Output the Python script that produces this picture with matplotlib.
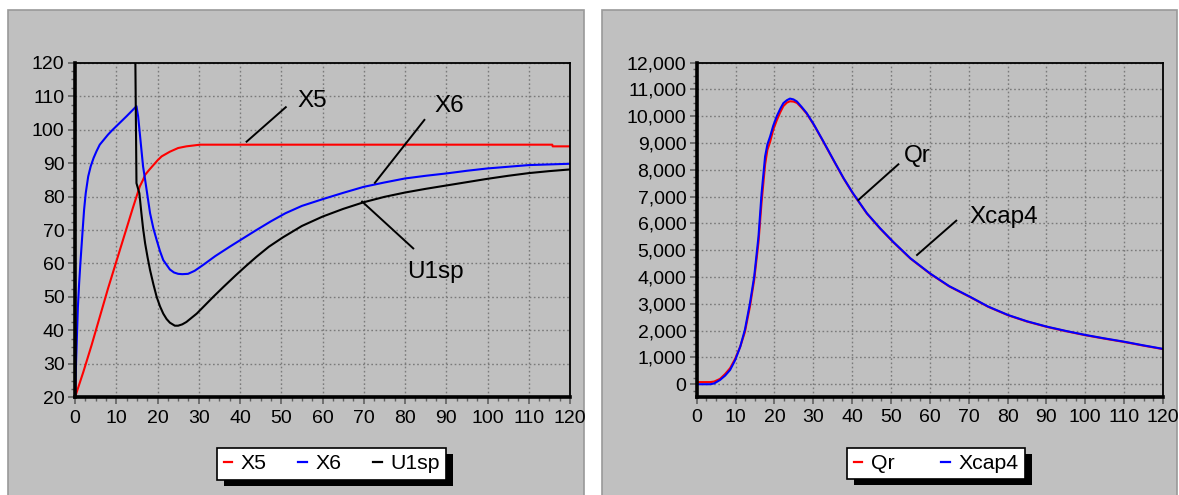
import matplotlib
matplotlib.use("Agg")
import matplotlib.pyplot as plt
from matplotlib.patches import Rectangle
from matplotlib.lines import Line2D
from matplotlib.transforms import IdentityTransform
from matplotlib.ticker import MultipleLocator, FuncFormatter

plt.rcParams['font.family'] = ['Liberation Sans', 'DejaVu Sans']

# ---------------- data: left chart ----------------
t_x5 = [0, 2, 4, 6, 8, 10, 12, 14, 15.7, 16.5, 17, 18, 19, 20, 21, 23, 25, 27, 29,
        30.3, 60, 90, 115.7, 115.8, 120]
x5 = [20, 27.5, 35.5, 44, 52.5, 60.5, 68.5, 76.5, 83, 85, 86.5, 88, 89.4, 90.8, 92,
      93.4, 94.5, 95, 95.3, 95.5, 95.5, 95.5, 95.5, 95.0, 95.0]

t_x6 = [0, 0.3, 0.7, 1, 1.3, 1.8, 2.2, 2.6, 3.2, 3.8, 4.5, 5.2, 6, 7, 8, 9, 10, 11,
        12.5, 13.7, 14.9, 15.3, 15.7, 16.1, 16.5, 17, 17.6, 18.2, 19, 19.8, 20.6,
        21.4, 23, 24, 25, 26, 27.4, 29, 31, 34, 37.5, 41, 44, 47.5, 51, 55, 60, 65,
        70, 75, 80, 85, 90, 95, 100, 105, 110, 115, 120]
x6 = [20, 32, 47, 54, 60, 69, 76, 81, 86, 89, 91.5, 93.5, 95.5, 97, 98.5, 99.8,
      101, 102.2, 104, 105.5, 107, 104, 99, 94, 89, 85, 80, 75, 70.5, 67, 63.7,
      61, 58.2, 57.3, 56.9, 56.8, 56.9, 57.8, 59.5, 62.2, 65, 67.7, 70, 72.6, 75,
      77.2, 79.2, 81.1, 82.9, 84.2, 85.4, 86.2, 86.9, 87.7, 88.4, 88.9, 89.4,
      89.6, 89.8]

t_u1sp = [14.6, 14.9, 15.6, 16.1, 16.5, 17, 17.6, 18.2, 19, 19.8, 20.6, 21.4, 22.2,
          23, 24.2, 25, 26, 27, 28, 29.5, 31.5, 33.5, 36, 39, 41.5, 44, 47, 50.4,
          55, 60, 65, 70, 75, 80, 85, 90, 95, 100, 105, 110, 115, 120]
u1sp = [125, 84, 81, 75, 70.5, 66, 61.8, 58, 53.8, 50, 47.2, 45, 43.4, 42.3, 41.4,
        41.4, 41.8, 42.5, 43.5, 45, 47.5, 50, 53, 56.5, 59.3, 62, 65, 67.8, 71.2,
        74, 76.3, 78.3, 79.9, 81.2, 82.3, 83.3, 84.3, 85.3, 86.2, 87, 87.6, 88.1]

# ---------------- data: right chart ----------------
t_q = [0, 3.5, 4.5, 6, 7.3, 8.6, 9.9, 11.2, 12.4, 13.7, 14.8, 15.9, 16.7, 17.6,
       18.2, 18.9, 19.7, 20.6, 21.5, 22.3, 23.2, 24.0, 24.9, 25.8, 27, 28.3, 30.2,
       32.6, 35.2, 37.8, 40.2, 43.8, 47.2, 50.6, 55, 60.1, 65, 70.4, 75, 80.2, 85,
       90.1, 95, 100, 105, 109.9, 115, 120]
xcap4 = [0, 0, 30, 160, 320, 535, 900, 1400, 2030, 3020, 4020, 5510, 7130, 8500,
         8950, 9250, 9650, 10000, 10280, 10490, 10600, 10660, 10630, 10550, 10350,
         10120, 9680, 9060, 8370, 7690, 7130, 6380, 5820, 5310, 4700, 4130, 3660,
         3260, 2900, 2580, 2350, 2150, 1990, 1840, 1710, 1590, 1450, 1320]
qr = [80, 80, 100, 200, 380, 600, 950, 1400, 1950, 2900, 3900, 5300, 6800, 8200,
      8750, 9050, 9500, 9850, 10150, 10380, 10510, 10560, 10550, 10500, 10320,
      10100, 9670, 9050, 8360, 7680, 7120, 6370, 5810, 5300, 4690, 4120, 3650,
      3250, 2890, 2570, 2340, 2140, 1980, 1830, 1700, 1580, 1440, 1310]

left_labels = ["X5", "X6", "U1sp"]
right_labels = ["Qr", "Xcap4"]

W, H = 1179, 495
fig = plt.figure(figsize=(W / 100, H / 100), dpi=100, facecolor="white")

PANEL = "#c0c0c0"
# panel backgrounds
for x0, x1 in [(8, 584), (602, 1177)]:
    fig.add_artist(Rectangle((x0 / W, -0.02), (x1 - x0) / W, 1 - 10 / H + 0.02,
                             transform=fig.transFigure, facecolor=PANEL,
                             edgecolor="#999999", lw=1.2, zorder=-5))

TICK_FS = 14


def style_axes(ax):
    ax.set_facecolor("none")
    for s in ["left", "bottom"]:
        ax.spines[s].set_color("black")
        ax.spines[s].set_linewidth(2.6)
    for s in ["top", "right"]:
        ax.spines[s].set_color("black")
        ax.spines[s].set_linewidth(1.3)
        ax.spines[s].set_linestyle((0, (1, 1)))
    ax.grid(True, which="major", color="#7a7a7a", linestyle=(0, (1.2, 1.8)), lw=1.0)
    ax.set_axisbelow(True)
    ax.tick_params(which="major", length=5, width=1.2, color="#606060",
                   labelsize=TICK_FS, labelcolor="black")
    ax.tick_params(which="minor", length=3, width=1.0, color="#606060")
    ax.tick_params(axis="x", which="major", pad=4)
    ax.tick_params(axis="y", which="major", pad=2.5)
    ax.set_xlim(0, 120)
    ax.xaxis.set_major_locator(MultipleLocator(10))
    ax.xaxis.set_minor_locator(MultipleLocator(2.5))


# ---------------- left chart ----------------
ax1 = fig.add_axes([75 / W, (H - 397.3) / H, 495 / W, 334.6 / H])
style_axes(ax1)
ax1.set_ylim(20, 120)
ax1.yaxis.set_major_locator(MultipleLocator(10))
ax1.yaxis.set_minor_locator(MultipleLocator(2.5))
lw = 1.5
ax1.plot(t_x5, x5, color="#ff0000", lw=lw)
ax1.plot(t_x6, x6, color="#0000ff", lw=lw)
ax1.plot(t_u1sp, u1sp, color="black", lw=lw)

ANN_FS = 17.5
# annotation leader lines and labels (left)
for (xa, ya, xb, yb), (tx, ty), lab in [
        ((41.6, 96.4, 51.1, 106.7), (57.5, 108.6), "X5"),
        ((72.7, 84.1, 84.7, 102.9), (90.7, 107.1), "X6"),
        ((69.6, 78.5, 82.0, 64.5), (87.3, 57.4), "U1sp")]:
    ax1.plot([xa, xb], [ya, yb], color="black", lw=1.4)
    ax1.text(tx, ty, lab, fontsize=ANN_FS, ha="center", va="center")

# ---------------- right chart ----------------
ax2 = fig.add_axes([696.7 / W, (H - 396.7) / H, 466.3 / W, 334 / H])
style_axes(ax2)
ax2.set_ylim(-465, 12000)
ax2.yaxis.set_major_locator(MultipleLocator(1000))
ax2.yaxis.set_minor_locator(MultipleLocator(250))
ax2.yaxis.set_major_formatter(FuncFormatter(lambda v, p: f"{int(round(v)):,}"))
ax2.plot(t_q, qr, color="#ff0000", lw=lw)
ax2.plot(t_q, xcap4, color="#0000ff", lw=lw)

for (xa, ya, xb, yb), (tx, ty), lab in [
        ((41.6, 6876, 51.9, 8208), (56.7, 8518), "Qr"),
        ((56.7, 4824, 66.8, 6104), (79.1, 6253), "Xcap4")]:
    ax2.plot([xa, xb], [ya, yb], color="black", lw=1.4)
    ax2.text(tx, ty, lab, fontsize=ANN_FS, ha="center", va="center")

# ---------------- legends ----------------
LEG_FS = 15.3


def make_legend(labels, colors, center, colspace):
    handles = [Line2D([], [], color=c, lw=1.6) for c in colors]
    leg = fig.legend(handles, labels, loc="center",
                     bbox_to_anchor=(center[0] / W, 1 - center[1] / H),
                     ncol=len(labels), frameon=True, fancybox=False,
                     edgecolor="black", framealpha=1, facecolor="white",
                     handlelength=0.4, handletextpad=0.4, columnspacing=colspace,
                     borderpad=0.3, borderaxespad=0, fontsize=LEG_FS)
    leg.get_frame().set_linewidth(1.2)
    return leg


leg1 = make_legend(left_labels, ["#ff0000", "#0000ff", "black"], (331.7, 463.8), 1.5)
leg2 = make_legend(right_labels, ["#ff0000", "#0000ff"], (936, 463.5), 2.2)

fig.canvas.draw()
for leg in (leg1, leg2):
    bb = leg.get_window_extent()
    sh = Rectangle((bb.x0 + 7, bb.y0 - 6), bb.width, bb.height,
                   transform=IdentityTransform(), facecolor="black",
                   edgecolor="none", zorder=leg.get_zorder() - 0.5)
    fig.add_artist(sh)

fig.savefig("out.png", dpi=100, facecolor="white")
